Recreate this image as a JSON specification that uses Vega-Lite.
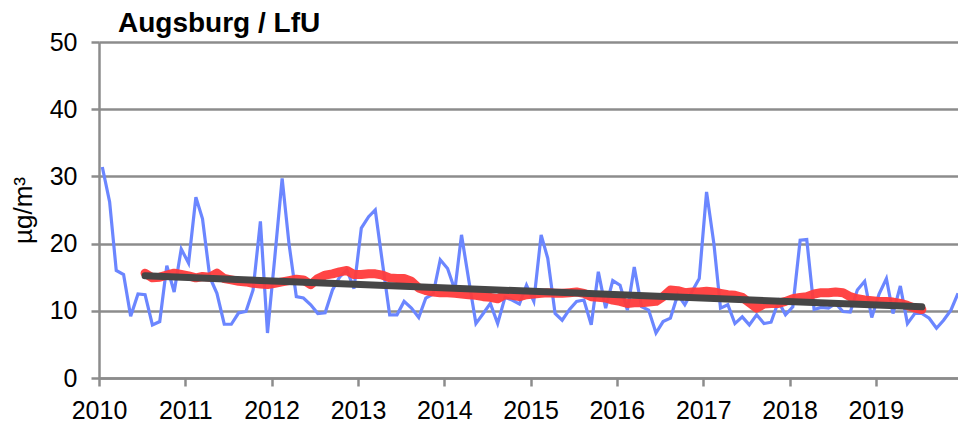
{
  "$schema": "https://vega.github.io/schema/vega-lite/v6.json",
  "autosize": "none",
  "width": 859,
  "height": 336,
  "padding": {"left": 99, "top": 42, "right": 0, "bottom": 50},
  "background": "white",
  "config": {
    "view": {"stroke": null},
    "font": "Liberation Sans",
    "axis": {"labelFont": "Liberation Sans", "titleFont": "Liberation Sans", "labelColor": "#000000", "titleColor": "#000000"}
  },
  "title": {"text": "Augsburg / LfU", "anchor": "start", "frame": "group", "dx": 19, "dy": 38, "offset": 8, "baseline": "alphabetic", "fontSize": 28, "fontWeight": "bold", "font": "Liberation Sans", "color": "#000000"},
  "datasets": {
    "monthly": [
      {"date": "2010-01-15", "value": 31.4}, {"date": "2010-02-15", "value": 26.2}, {"date": "2010-03-15", "value": 16.0}, {"date": "2010-04-15", "value": 15.4}, {"date": "2010-05-15", "value": 9.2}, {"date": "2010-06-15", "value": 12.5}, {"date": "2010-07-15", "value": 12.4}, {"date": "2010-08-15", "value": 7.9}, {"date": "2010-09-15", "value": 8.4}, {"date": "2010-10-15", "value": 16.7}, {"date": "2010-11-15", "value": 12.8}, {"date": "2010-12-15", "value": 19.2},
      {"date": "2011-01-15", "value": 17.1}, {"date": "2011-02-15", "value": 26.9}, {"date": "2011-03-15", "value": 23.7}, {"date": "2011-04-15", "value": 15.0}, {"date": "2011-05-15", "value": 12.6}, {"date": "2011-06-15", "value": 8.0}, {"date": "2011-07-15", "value": 8.0}, {"date": "2011-08-15", "value": 9.7}, {"date": "2011-09-15", "value": 9.9}, {"date": "2011-10-15", "value": 13.1}, {"date": "2011-11-15", "value": 23.3}, {"date": "2011-12-15", "value": 6.7},
      {"date": "2012-01-15", "value": 18.0}, {"date": "2012-02-15", "value": 29.7}, {"date": "2012-03-15", "value": 20.0}, {"date": "2012-04-15", "value": 12.1}, {"date": "2012-05-15", "value": 11.9}, {"date": "2012-06-15", "value": 10.9}, {"date": "2012-07-15", "value": 9.6}, {"date": "2012-08-15", "value": 9.7}, {"date": "2012-09-15", "value": 13.1}, {"date": "2012-10-15", "value": 15.0}, {"date": "2012-11-15", "value": 16.1}, {"date": "2012-12-15", "value": 13.3},
      {"date": "2013-01-15", "value": 22.3}, {"date": "2013-02-15", "value": 24.0}, {"date": "2013-03-15", "value": 25.0}, {"date": "2013-04-15", "value": 17.0}, {"date": "2013-05-15", "value": 9.4}, {"date": "2013-06-15", "value": 9.4}, {"date": "2013-07-15", "value": 11.4}, {"date": "2013-08-15", "value": 10.4}, {"date": "2013-09-15", "value": 9.0}, {"date": "2013-10-15", "value": 11.9}, {"date": "2013-11-15", "value": 12.5}, {"date": "2013-12-15", "value": 17.6},
      {"date": "2014-01-15", "value": 16.3}, {"date": "2014-02-15", "value": 13.1}, {"date": "2014-03-15", "value": 21.3}, {"date": "2014-04-15", "value": 14.5}, {"date": "2014-05-15", "value": 8.1}, {"date": "2014-06-15", "value": 9.6}, {"date": "2014-07-15", "value": 11.1}, {"date": "2014-08-15", "value": 8.1}, {"date": "2014-09-15", "value": 12.0}, {"date": "2014-10-15", "value": 11.6}, {"date": "2014-11-15", "value": 11.0}, {"date": "2014-12-15", "value": 13.8},
      {"date": "2015-01-15", "value": 11.4}, {"date": "2015-02-15", "value": 21.3}, {"date": "2015-03-15", "value": 17.8}, {"date": "2015-04-15", "value": 9.6}, {"date": "2015-05-15", "value": 8.6}, {"date": "2015-06-15", "value": 10.2}, {"date": "2015-07-15", "value": 11.4}, {"date": "2015-08-15", "value": 11.6}, {"date": "2015-09-15", "value": 7.9}, {"date": "2015-10-15", "value": 15.8}, {"date": "2015-11-15", "value": 10.4}, {"date": "2015-12-15", "value": 14.5},
      {"date": "2016-01-15", "value": 13.8}, {"date": "2016-02-15", "value": 10.1}, {"date": "2016-03-15", "value": 16.5}, {"date": "2016-04-15", "value": 10.6}, {"date": "2016-05-15", "value": 10.1}, {"date": "2016-06-15", "value": 6.7}, {"date": "2016-07-15", "value": 8.4}, {"date": "2016-08-15", "value": 8.9}, {"date": "2016-09-15", "value": 12.4}, {"date": "2016-10-15", "value": 10.9}, {"date": "2016-11-15", "value": 12.9}, {"date": "2016-12-15", "value": 14.8},
      {"date": "2017-01-15", "value": 27.7}, {"date": "2017-02-15", "value": 20.0}, {"date": "2017-03-15", "value": 10.4}, {"date": "2017-04-15", "value": 10.9}, {"date": "2017-05-15", "value": 8.1}, {"date": "2017-06-15", "value": 9.1}, {"date": "2017-07-15", "value": 7.9}, {"date": "2017-08-15", "value": 9.4}, {"date": "2017-09-15", "value": 8.1}, {"date": "2017-10-15", "value": 8.3}, {"date": "2017-11-15", "value": 11.4}, {"date": "2017-12-15", "value": 9.4},
      {"date": "2018-01-15", "value": 10.6}, {"date": "2018-02-15", "value": 20.5}, {"date": "2018-03-15", "value": 20.6}, {"date": "2018-04-15", "value": 10.2}, {"date": "2018-05-15", "value": 10.5}, {"date": "2018-06-15", "value": 10.4}, {"date": "2018-07-15", "value": 11.1}, {"date": "2018-08-15", "value": 9.9}, {"date": "2018-09-15", "value": 9.8}, {"date": "2018-10-15", "value": 13.1}, {"date": "2018-11-15", "value": 14.4}, {"date": "2018-12-15", "value": 9.0},
      {"date": "2019-01-15", "value": 12.5}, {"date": "2019-02-15", "value": 14.8}, {"date": "2019-03-15", "value": 9.6}, {"date": "2019-04-15", "value": 13.7}, {"date": "2019-05-15", "value": 8.1}, {"date": "2019-06-15", "value": 9.6}, {"date": "2019-07-15", "value": 9.6}, {"date": "2019-08-15", "value": 8.9}, {"date": "2019-09-15", "value": 7.4}, {"date": "2019-10-15", "value": 8.6}, {"date": "2019-11-15", "value": 10.1}, {"date": "2019-12-15", "value": 12.6}
    ],
    "average": [
      {"date": "2010-07-15", "value": 15.6}, {"date": "2010-08-15", "value": 14.9}, {"date": "2010-09-15", "value": 15.0}, {"date": "2010-10-15", "value": 15.3}, {"date": "2010-11-15", "value": 15.6}, {"date": "2010-12-15", "value": 15.4},
      {"date": "2011-01-15", "value": 15.2}, {"date": "2011-02-15", "value": 14.9}, {"date": "2011-03-15", "value": 15.1}, {"date": "2011-04-15", "value": 15.0}, {"date": "2011-05-15", "value": 15.6}, {"date": "2011-06-15", "value": 14.8}, {"date": "2011-07-15", "value": 14.6}, {"date": "2011-08-15", "value": 14.4}, {"date": "2011-09-15", "value": 14.3}, {"date": "2011-10-15", "value": 14.1}, {"date": "2011-11-15", "value": 14.0}, {"date": "2011-12-15", "value": 13.9},
      {"date": "2012-01-15", "value": 14.1}, {"date": "2012-02-15", "value": 14.3}, {"date": "2012-03-15", "value": 14.5}, {"date": "2012-04-15", "value": 14.7}, {"date": "2012-05-15", "value": 14.6}, {"date": "2012-06-15", "value": 13.9}, {"date": "2012-07-15", "value": 14.8}, {"date": "2012-08-15", "value": 15.3}, {"date": "2012-09-15", "value": 15.5}, {"date": "2012-10-15", "value": 15.8}, {"date": "2012-11-15", "value": 16.0}, {"date": "2012-12-15", "value": 15.4},
      {"date": "2013-01-15", "value": 15.4}, {"date": "2013-02-15", "value": 15.5}, {"date": "2013-03-15", "value": 15.5}, {"date": "2013-04-15", "value": 15.3}, {"date": "2013-05-15", "value": 14.9}, {"date": "2013-06-15", "value": 14.8}, {"date": "2013-07-15", "value": 14.8}, {"date": "2013-08-15", "value": 14.4}, {"date": "2013-09-15", "value": 13.4}, {"date": "2013-10-15", "value": 13.0}, {"date": "2013-11-15", "value": 12.8}, {"date": "2013-12-15", "value": 12.7},
      {"date": "2014-01-15", "value": 12.7}, {"date": "2014-02-15", "value": 12.6}, {"date": "2014-03-15", "value": 12.5}, {"date": "2014-04-15", "value": 12.4}, {"date": "2014-05-15", "value": 12.3}, {"date": "2014-06-15", "value": 12.1}, {"date": "2014-07-15", "value": 12.0}, {"date": "2014-08-15", "value": 11.8}, {"date": "2014-09-15", "value": 12.4}, {"date": "2014-10-15", "value": 12.3}, {"date": "2014-11-15", "value": 12.1}, {"date": "2014-12-15", "value": 12.4},
      {"date": "2015-01-15", "value": 12.5}, {"date": "2015-02-15", "value": 12.6}, {"date": "2015-03-15", "value": 12.7}, {"date": "2015-04-15", "value": 12.6}, {"date": "2015-05-15", "value": 12.6}, {"date": "2015-06-15", "value": 12.7}, {"date": "2015-07-15", "value": 12.8}, {"date": "2015-08-15", "value": 12.6}, {"date": "2015-09-15", "value": 12.1}, {"date": "2015-10-15", "value": 12.0}, {"date": "2015-11-15", "value": 11.9}, {"date": "2015-12-15", "value": 11.6},
      {"date": "2016-01-15", "value": 11.4}, {"date": "2016-02-15", "value": 11.1}, {"date": "2016-03-15", "value": 11.2}, {"date": "2016-04-15", "value": 11.2}, {"date": "2016-05-15", "value": 11.3}, {"date": "2016-06-15", "value": 11.4}, {"date": "2016-07-15", "value": 12.1}, {"date": "2016-08-15", "value": 13.1}, {"date": "2016-09-15", "value": 13.0}, {"date": "2016-10-15", "value": 12.7}, {"date": "2016-11-15", "value": 12.8}, {"date": "2016-12-15", "value": 12.8},
      {"date": "2017-01-15", "value": 12.9}, {"date": "2017-02-15", "value": 12.8}, {"date": "2017-03-15", "value": 12.6}, {"date": "2017-04-15", "value": 12.4}, {"date": "2017-05-15", "value": 12.3}, {"date": "2017-06-15", "value": 12.0}, {"date": "2017-07-15", "value": 11.2}, {"date": "2017-08-15", "value": 10.4}, {"date": "2017-09-15", "value": 11.0}, {"date": "2017-10-15", "value": 11.1}, {"date": "2017-11-15", "value": 11.1}, {"date": "2017-12-15", "value": 11.4},
      {"date": "2018-01-15", "value": 11.8}, {"date": "2018-02-15", "value": 12.0}, {"date": "2018-03-15", "value": 12.1}, {"date": "2018-04-15", "value": 12.5}, {"date": "2018-05-15", "value": 12.7}, {"date": "2018-06-15", "value": 12.7}, {"date": "2018-07-15", "value": 12.8}, {"date": "2018-08-15", "value": 12.7}, {"date": "2018-09-15", "value": 12.1}, {"date": "2018-10-15", "value": 11.8}, {"date": "2018-11-15", "value": 11.6}, {"date": "2018-12-15", "value": 11.5},
      {"date": "2019-01-15", "value": 11.4}, {"date": "2019-02-15", "value": 11.4}, {"date": "2019-03-15", "value": 11.3}, {"date": "2019-04-15", "value": 11.1}, {"date": "2019-05-15", "value": 10.8}, {"date": "2019-06-15", "value": 10.4}, {"date": "2019-07-15", "value": 10.2}
    ],
    "trend": [
      {"date": "2010-07-15", "value": 15.2},
      {"date": "2019-07-15", "value": 10.6}
    ]
  },
  "encoding": {
    "x": {
      "field": "date", "type": "temporal",
      "scale": {"type": "utc", "domain": [{"year": 2010, "month": 1, "date": 1, "utc": true}, {"year": 2019, "month": 12, "date": 15, "utc": true}]},
      "axis": {
        "title": null, "format": "%Y", "tickCount": {"interval": "year", "step": 1},
        "grid": false, "domainColor": "#8c8c8c", "domainWidth": 2.5, "tickColor": "#8c8c8c", "tickWidth": 2.5, "tickSize": 8,
        "labelFontSize": 25, "labelPadding": 12, "labelFlush": false, "labelOverlap": false
      }
    },
    "y": {
      "field": "value", "type": "quantitative",
      "scale": {"domain": [0, 50], "nice": false, "zero": true},
      "axis": {
        "title": "µg/m³", "titleFontSize": 26, "titleFontWeight": "normal", "titleX": -68, "titleY": 168, "titleAngle": -90, "titleAlign": "center", "titleBaseline": "alphabetic",
        "values": [0, 10, 20, 30, 40, 50], "grid": true, "gridColor": "#8c8c8c", "gridWidth": 2.5,
        "domainColor": "#8c8c8c", "domainWidth": 2.5, "tickColor": "#8c8c8c", "tickWidth": 2.5, "tickSize": 8,
        "labelFontSize": 25, "labelPadding": 14
      }
    }
  },
  "layer": [
    {"data": {"name": "monthly"}, "mark": {"type": "line", "color": "#6b86ff", "strokeWidth": 3.2, "clip": true}},
    {"data": {"name": "average"}, "mark": {"type": "line", "color": "#ff3b3b", "strokeWidth": 9, "strokeCap": "round", "strokeJoin": "round", "opacity": 0.95}},
    {"data": {"name": "trend"}, "mark": {"type": "line", "color": "#464646", "strokeWidth": 7, "strokeCap": "round"}}
  ]
}
